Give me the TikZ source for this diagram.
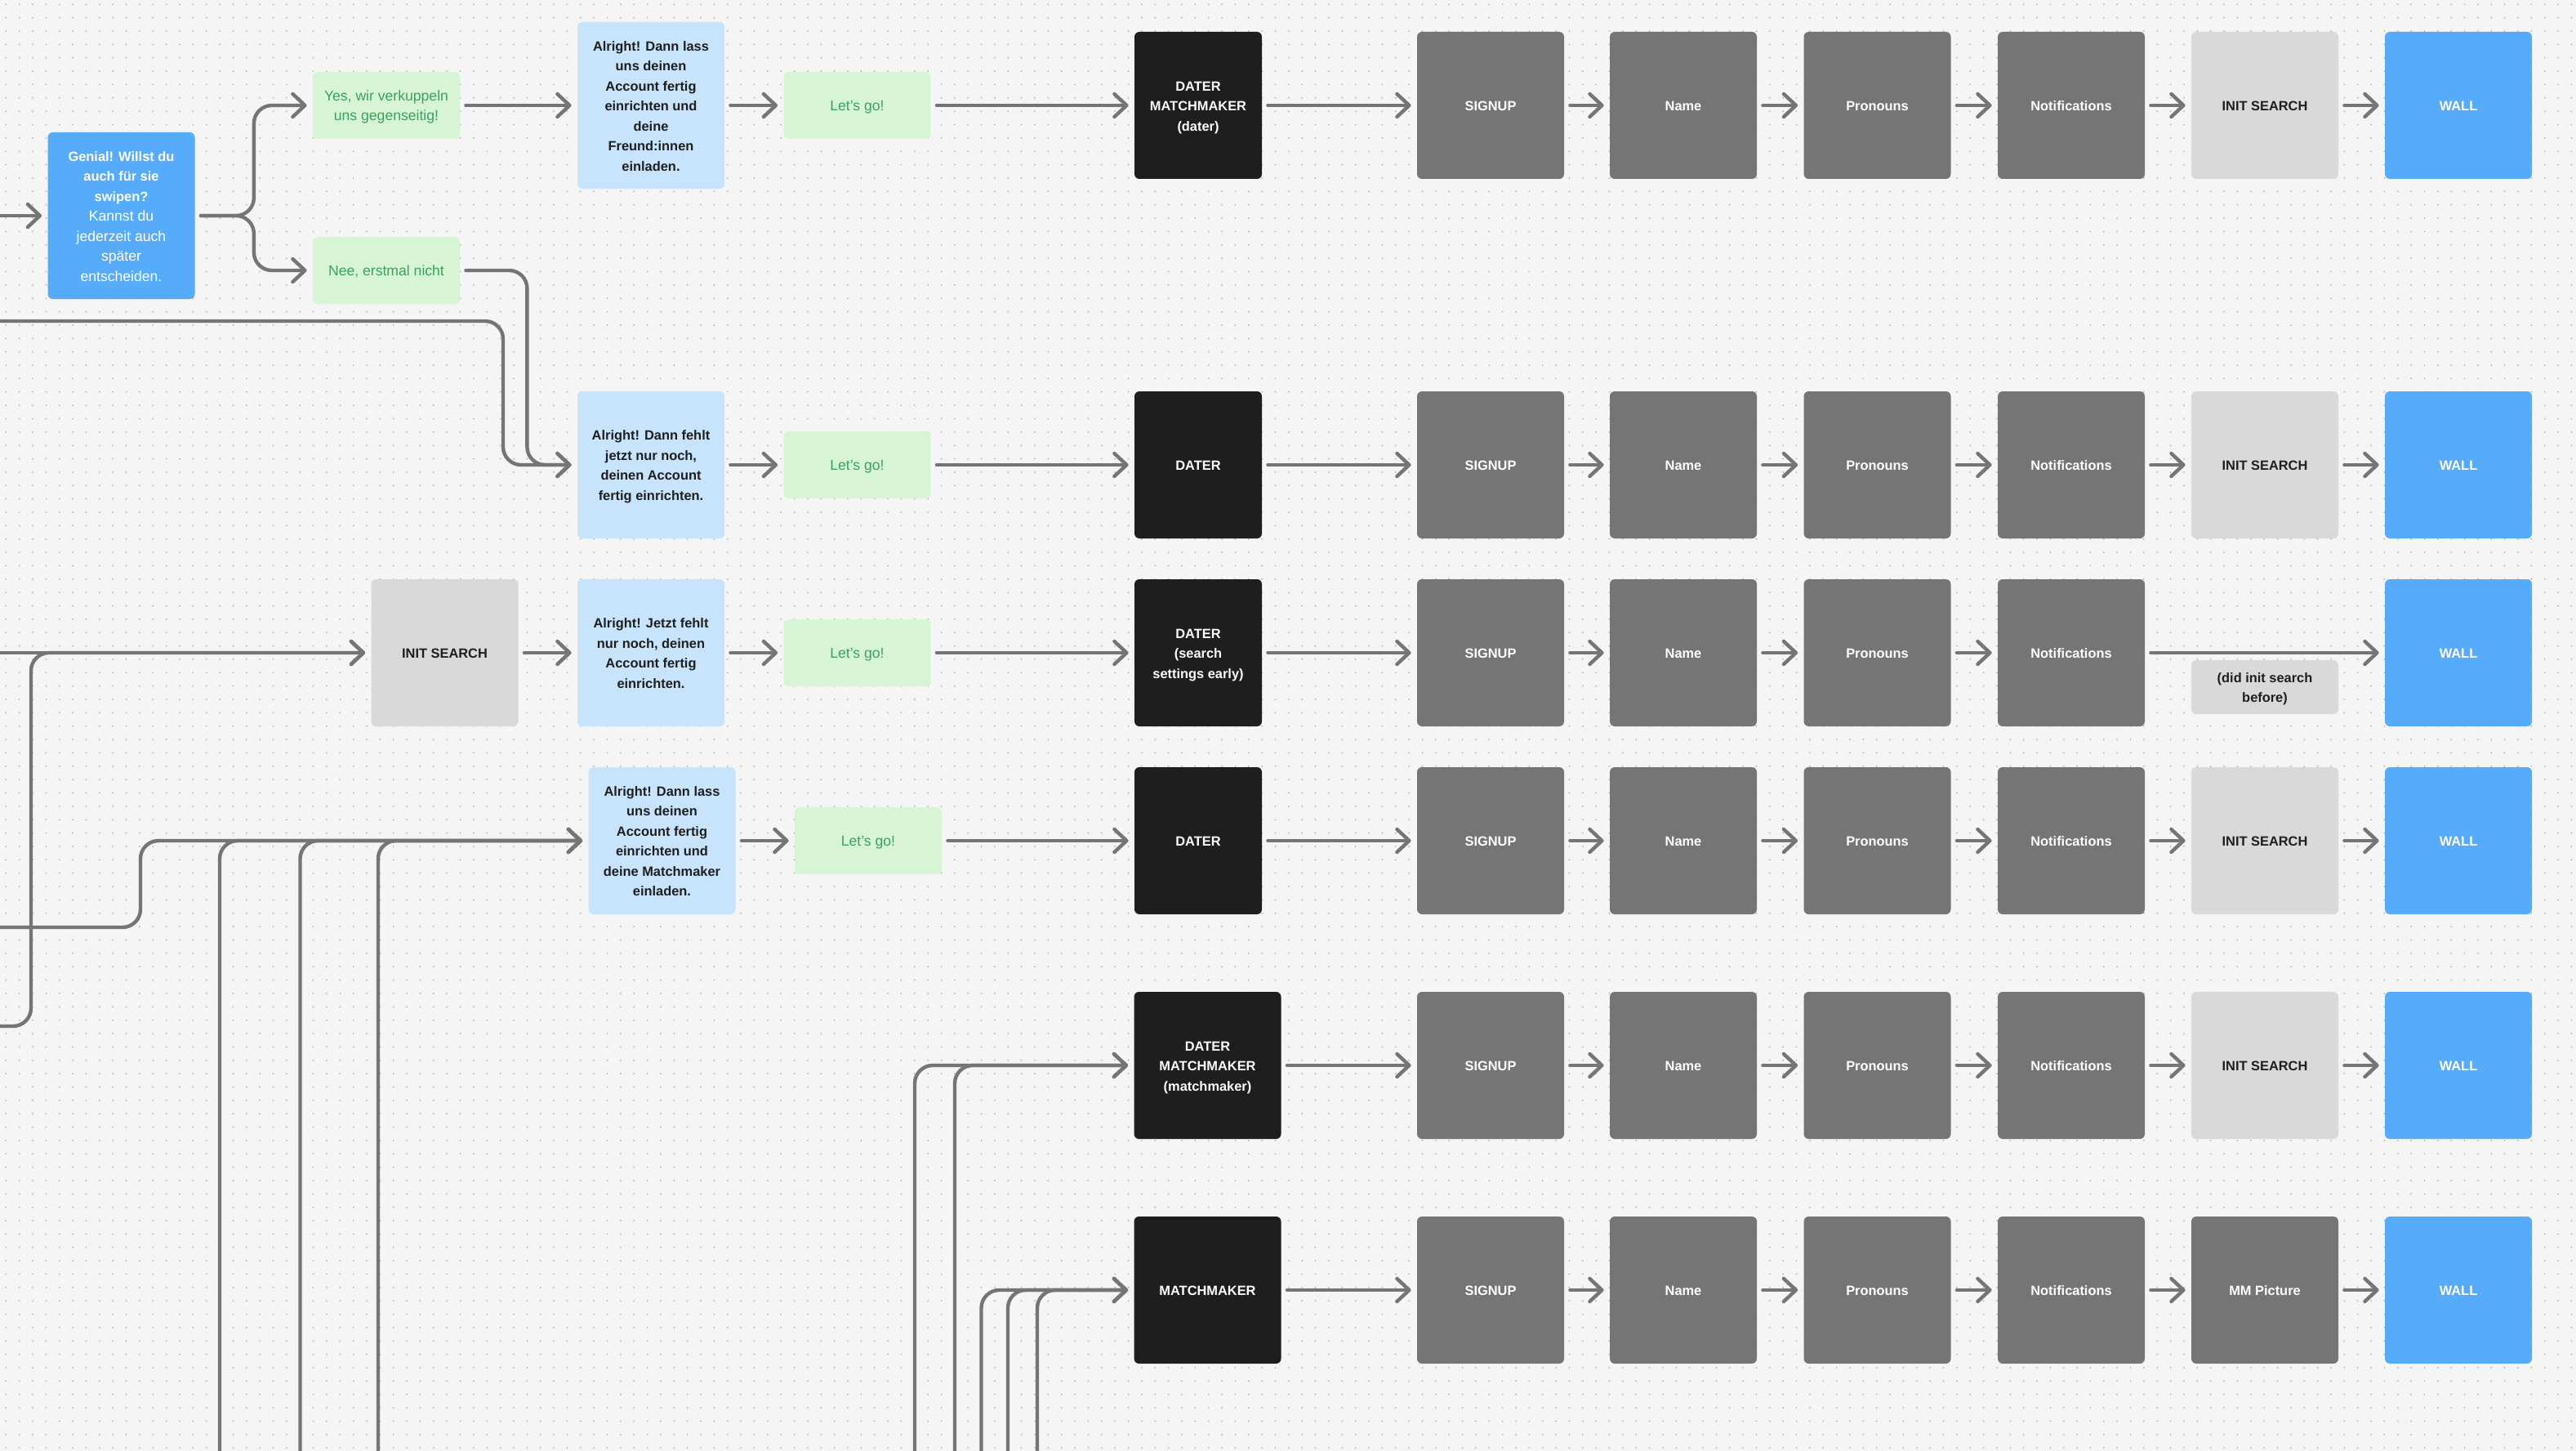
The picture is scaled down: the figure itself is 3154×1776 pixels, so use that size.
\documentclass[tikz,border=0pt]{standalone}
\usepackage{fontspec}
\setmainfont{Liberation Sans}
\usetikzlibrary{arrows.meta}

\definecolor{paper}{HTML}{F5F5F5}
\definecolor{griddot}{HTML}{B0B0B0}
\definecolor{wire}{HTML}{757575}
\definecolor{inkdark}{HTML}{1E1E1E}
\definecolor{skyfill}{HTML}{C7E4FC}
\definecolor{mintfill}{HTML}{D7F5D5}
\definecolor{mintink}{HTML}{3AA25C}
\definecolor{wallblue}{HTML}{57ABFB}
\definecolor{shadegray}{HTML}{D9D9D9}

\newcommand{\plainline}{\fontsize{8.8}{12.25}\selectfont\mdseries}

\tikzset{
    screen/.style={rectangle, rounded corners=3pt, minimum width=90pt, minimum height=90pt,
        align=center, inner sep=0pt, font=\fontsize{8.2}{12.25}\selectfont\bfseries,
        execute at begin node={\rule{0pt}{8.8pt}},
        execute at end node={\rule[-2.1pt]{0pt}{2.1pt}}},
    % lines below the first one
    stack/.style={execute at begin node={\rule{0pt}{\dimexpr 8.8pt+12.25pt*#1\relax}}},
    sky/.style={screen, fill=skyfill, text=inkdark},
    gate/.style={screen, fill=inkdark, text=white, minimum width=78pt},
    gatewide/.style={screen, fill=inkdark, text=white},
    stepbox/.style={screen, fill=wire, text=white},
    init/.style={screen, fill=shadegray, text=inkdark},
    wall/.style={screen, fill=wallblue, text=white},
    answer/.style={screen, fill=mintfill, text=mintink, minimum height=41pt,
        font=\plainline},
    hint/.style={screen, stack=1, fill=shadegray, text=inkdark, minimum height=33pt},
    wireline/.style={draw=wire, line width=2.2pt, line cap=round, rounded corners=11pt,
        -{Straight Barb[length=7.5pt,width=14pt,line width=2.2pt,round]}, shorten >=3.5pt},
    link/.style={wireline, shorten <=3.5pt},
    griddots/.style={griddot, line width=1pt, line cap=round, dash pattern=on 0pt off 8.18pt}
}

\begin{document}
\begin{tikzpicture}[x=0.5pt,y=-0.5pt]
    \useasboundingbox (0,0) rectangle (3154,1776);
    \fill [paper] (0,0) rectangle (3154,1776);
    % dotted canvas
    \foreach \n in {0,...,108}{
        \draw [griddots] (7.3,{5.3+16.36*\n}) -- (3154,{5.3+16.36*\n});
    }

    % first question
    \node [screen, stack=6, fill=wallblue, text=white, minimum height=102pt] (genial) at (148.5,264) {Genial! Willst du\\auch für sie\\swipen?\\{\plainline Kannst du}\\{\plainline jederzeit auch}\\{\plainline später}\\{\plainline entscheiden.}};
    \node [answer, stack=1] (yes) at (473,129) {Yes, wir verkuppeln\\uns gegenseitig!};
    \node [answer] (nee) at (473,331) {Nee, erstmal nicht};

    % text screens
    \node [sky, stack=6, minimum height=102pt] (setupA) at (797,129) {Alright! Dann lass\\uns deinen\\Account fertig\\einrichten und\\deine\\Freund:innen\\einladen.};
    \node [sky, stack=3] (setupB) at (797,569) {Alright! Dann fehlt\\jetzt nur noch,\\deinen Account\\fertig einrichten.};
    \node [init] (initfirst) at (544.5,799) {INIT SEARCH};
    \node [sky, stack=3] (setupC) at (797,799) {Alright! Jetzt fehlt\\nur noch, deinen\\Account fertig\\einrichten.};
    \node [sky, stack=5] (setupD) at (810.5,1029) {Alright! Dann lass\\uns deinen\\Account fertig\\einrichten und\\deine Matchmaker\\einladen.};

    % lets go buttons
    \node [answer] (goA) at (1049.5,129) {Let's go!};
    \node [answer] (goB) at (1049.5,569) {Let's go!};
    \node [answer] (goC) at (1049.5,799) {Let's go!};
    \node [answer] (goD) at (1063,1029) {Let's go!};

    % first screen of each row
    \node [gate, stack=2] (gateA) at (1467,129) {DATER\\MATCHMAKER\\(dater)};
    \node [gate] (gateB) at (1467,569) {DATER};
    \node [gate, stack=2] (gateC) at (1467,799) {DATER\\(search\\settings early)};
    \node [gate] (gateD) at (1467,1029) {DATER};
    \node [gatewide, stack=2] (gateE) at (1478.5,1304) {DATER\\MATCHMAKER\\(matchmaker)};
    \node [gatewide] (gateF) at (1478.5,1579) {MATCHMAKER};

    % the same steps in every row
    \foreach \r/\y in {A/129,B/569,C/799,D/1029,E/1304,F/1579}{
        \node [stepbox] (signup\r) at (1825,\y) {SIGNUP};
        \node [stepbox] (name\r) at (2061,\y) {Name};
        \node [stepbox] (pronouns\r) at (2298.5,\y) {Pronouns};
        \node [stepbox] (notif\r) at (2536,\y) {Notifications};
        \node [wall] (wall\r) at (3010,\y) {WALL};
        \draw [link] (gate\r.east) -- (signup\r.west);
        \draw [link] (signup\r.east) -- (name\r.west);
        \draw [link] (name\r.east) -- (pronouns\r.west);
        \draw [link] (pronouns\r.east) -- (notif\r.west);
    }
    \foreach \r/\y in {A/129,B/569,D/1029,E/1304}{
        \node [init] (search\r) at (2773,\y) {INIT SEARCH};
        \draw [link] (notif\r.east) -- (search\r.west);
        \draw [link] (search\r.east) -- (wall\r.west);
    }
    \node [stepbox] (searchF) at (2773,1579) {MM Picture};
    \draw [link] (notifF.east) -- (searchF.west);
    \draw [link] (searchF.east) -- (wallF.west);
    \node [hint] (didinit) at (2773,841) {(did init search\\before)};
    \draw [link] (notifC.east) -- (wallC.west);

    % free ends at the border
    \coordinate (inGenial) at (0,264);
    \coordinate (inSetupB) at (0,393);
    \coordinate (inInit) at (0,799);
    \coordinate (inInitLow) at (0,1256);
    \coordinate (inSetupD) at (0,1135);
    \foreach \n/\x in {a/269,b/367.5,c/463}{
        \coordinate (upD\n) at (\x,1776);
        \draw [wireline] (upD\n) |- (setupD.west);
    }
    \foreach \n/\x in {a/1120,b/1169}{
        \coordinate (upE\n) at (\x,1776);
        \draw [wireline] (upE\n) |- (gateE.west);
    }
    \foreach \n/\x in {a/1201.5,b/1234,c/1270}{
        \coordinate (upF\n) at (\x,1776);
        \draw [wireline] (upF\n) |- (gateF.west);
    }

    % connectors
    \draw [wireline] (inGenial) -- (genial.west);
    \draw [link] (genial.east) -- ++(72,0) |- (yes.west);
    \draw [link] (genial.east) -- ++(72,0) |- (nee.west);
    \draw [link] (yes.east) -- (setupA.west);
    \draw [link] (nee.east) -- ++(82,0) |- (setupB.west);
    \draw [wireline] (inSetupB) -- ++(616,0) |- (setupB.west);
    \draw [wireline] (inInit) -- (initfirst.west);
    \draw [wireline] (inInitLow) -- ++(38,0) |- (initfirst.west);
    \draw [wireline] (inSetupD) -- ++(172,0) |- (setupD.west);
    \draw [link] (initfirst.east) -- (setupC.west);
    \draw [link] (setupA.east) -- (goA.west);
    \draw [link] (setupB.east) -- (goB.west);
    \draw [link] (setupC.east) -- (goC.west);
    \draw [link] (setupD.east) -- (goD.west);
    \draw [link] (goA.east) -- (gateA.west);
    \draw [link] (goB.east) -- (gateB.west);
    \draw [link] (goC.east) -- (gateC.west);
    \draw [link] (goD.east) -- (gateD.west);
\end{tikzpicture}
\end{document}
